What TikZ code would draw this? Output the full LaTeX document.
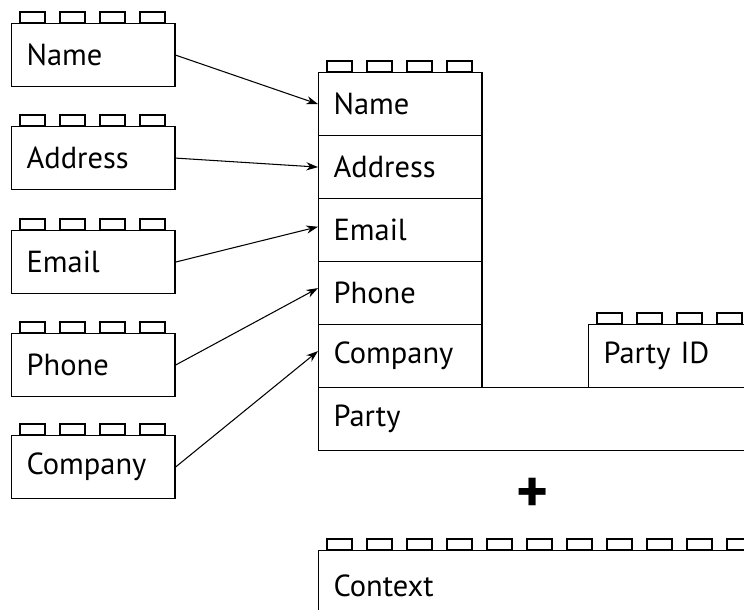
\documentclass[tikz,border=0pt]{standalone}
\usepackage{fontspec}
\setmainfont{PT Sans}
\usepackage{tikz}
\usetikzlibrary{arrows.meta,positioning,calc}

%% studs on top of a brick: node name, last stud index
\newcommand{\brickstuds}[2]{%
  \foreach \k in {0,...,#2}
    \draw[stud] ($(#1.north west)+({9+40*\k},0)$) rectangle ++(25,-11);%
}

\begin{document}
\begin{tikzpicture}[
    x=0.03cm, y=-0.03cm,
    brick/.style={rectangle,draw,line width=1pt,anchor=north west,
      minimum width=4.9cm,minimum height=1.89cm,inner xsep=0.45cm,
      text width=4.0cm,align=left},
    stud/.style={draw,line width=1pt},
    arr/.style={-{Stealth[length=10pt,width=7pt]},line width=0.9pt},
    font=\fontsize{26}{30}\selectfont
  ]
  \useasboundingbox (0,0) rectangle (744,610);
  \clip (0,0) rectangle (744,610);

  %% Single bricks
  \node[brick] (sName)    at (11, 23)  {Name};
  \node[brick] (sAddress) at (11,126)  {Address};
  \node[brick] (sEmail)   at (11,230)  {Email};
  \node[brick] (sPhone)   at (11,333)  {Phone};
  \node[brick] (sCompany) at (11,435)  {Company};
  \foreach \b in {sName,sAddress,sEmail,sPhone,sCompany}
    \brickstuds{\b}{3};

  %% Stacked bricks
  \node[brick] (tName)    at (318, 72) {Name};
  \node[brick] (tAddress) at (318,135) {Address};
  \node[brick] (tEmail)   at (318,198) {Email};
  \node[brick] (tPhone)   at (318,261) {Phone};
  \node[brick] (tCompany) at (318,324) {Company};
  \brickstuds{tName}{3};

  %% Party row and Party ID
  \node[brick,minimum width=13.6cm,text width=12.7cm] (party) at (318,387) {Party};
  \node[brick,minimum width=5.5cm,text width=4.6cm] (partyid) at (588,324) {Party ID};
  \brickstuds{partyid}{3};

  %% plus sign
  \node (plus) at (533,495) {\fontsize{52}{52}\selectfont\bfseries +};

  %% Context brick
  \node[brick,minimum width=13.6cm,minimum height=2.1cm,text width=12.7cm] (context) at (318,550) {Context};
  \brickstuds{context}{10};

  %% connectors
  \draw[arr] (sName.east)    -- (tName.west);
  \draw[arr] (sAddress.east) -- (tAddress.west);
  \draw[arr] (sEmail.east)   -- ([yshift=0.1cm]tEmail.west);
  \draw[arr] (sPhone.east)   -- ([yshift=0.15cm]tPhone.west);
  \draw[arr] (sCompany.east) -- ([yshift=0.15cm]tCompany.west);
\end{tikzpicture}
\end{document}
